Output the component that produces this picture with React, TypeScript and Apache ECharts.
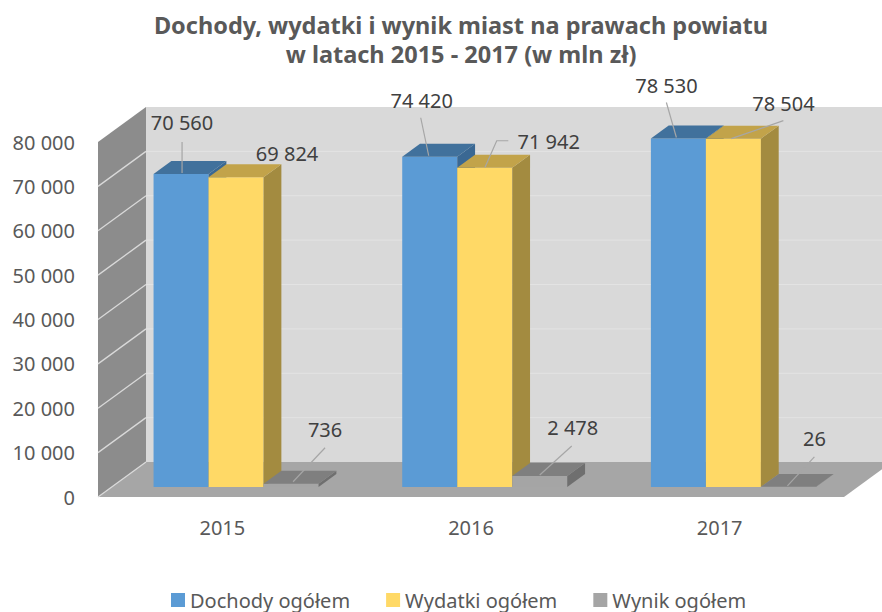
import React, { useEffect, useRef } from 'react';
import * as echarts from 'echarts';

// ---- data ----
const categories = ['2015', '2016', '2017'];
const dochody = [70560, 74420, 78530];
const wydatki = [69824, 71942, 78504];
const wynik = [736, 2478, 26];
const seriesNames = ['Dochody ogółem', 'Wydatki ogółem', 'Wynik ogółem'];
const yTicks = [0, 10000, 20000, 30000, 40000, 50000, 60000, 70000, 80000];
const titleLines = ['Dochody, wydatki i wynik miast na prawach powiatu', 'w latach 2015 - 2017 (w mln zł)'];

// ---- layout / style ----
const FONT = "'Noto Sans', 'Open Sans', sans-serif";
const DEPTH_X = 48;
const DEPTH_Y = -35;
const BAR_FRONT = 0.286;
const BAR_BACK = 0.657;
const BAR_RATIO = 0.2212;

type Faces = { front: string; top: string; side: string };
const FACES: Faces[] = [
  { front: '#5b9bd5', top: '#41719c', side: '#3a6893' },
  { front: '#ffd966', top: '#c2a34a', side: '#a38b40' },
  { front: '#a5a5a5', top: '#7f7f7f', side: '#6f6f6f' },
];
const LEGEND_COLORS = ['#5b9bd5', '#ffd966', '#a5a5a5'];

type LabelLayout = { dx: number; dy: number; leader: number[][] | null };
// label offsets relative to the bar's front-top centre
const LABELS: LabelLayout[][] = [
  [
    { dx: 1, dy: -51, leader: [[1, -32], [1, -1]] },
    { dx: -8, dy: -56, leader: [[-9, -39], [-1, -1]] },
    { dx: -12, dy: -53.5, leader: [[-12, -36], [-2, -1]] },
  ],
  [
    { dx: 51, dy: -24, leader: null },
    { dx: 64, dy: -26, leader: [[23.6, -27], [12, -27], [0.3, -0.5]] },
    { dx: 50, dy: -35, leader: [[50, -18], [-2, 0]] },
  ],
  [
    { dx: 34, dy: -54, leader: [[34, -36], [2, -2]] },
    { dx: 33, dy: -48, leader: [[32, -30], [0, -1]] },
    { dx: 26, dy: -48, leader: [[26, -30], [-1, -1]] },
  ],
];

const fmt = (v: number) => String(v).replace(/\B(?=(\d{3})+(?!\d))/g, ' ');

function makeBarRender(pos: number) {
  const faces = FACES[pos];
  const labels = LABELS[pos];
  return (params: any, api: any) => {
    const ci = api.value(0) as number;
    const v = api.value(1) as number;
    const p0 = api.coord([ci, 0]);
    const p1 = api.coord([ci, v]);
    const band = api.size([1, 0])[0];
    const bw = band * BAR_RATIO;
    const xl = p0[0] + (pos - 1.5) * bw;
    const xr = xl + bw;
    const fx = DEPTH_X * BAR_FRONT;
    const fy = DEPTH_Y * BAR_FRONT;
    const bx = DEPTH_X * BAR_BACK;
    const by = DEPTH_Y * BAR_BACK;
    const yb = p0[1];
    const yt = p1[1];
    const front = [[xl + fx, yt + fy], [xr + fx, yt + fy], [xr + fx, yb + fy], [xl + fx, yb + fy]];
    const top = [[xl + fx, yt + fy], [xr + fx, yt + fy], [xr + bx, yt + by], [xl + bx, yt + by]];
    const side = [[xr + fx, yt + fy], [xr + bx, yt + by], [xr + bx, yb + by], [xr + fx, yb + fy]];
    const ax = (xl + xr) / 2 + fx;
    const ay = yt + fy;
    const L = labels[params.dataIndex];
    const children: any[] = [
      { type: 'polygon', shape: { points: front }, style: { fill: faces.front } },
      { type: 'polygon', shape: { points: side }, style: { fill: faces.side } },
      { type: 'polygon', shape: { points: top }, style: { fill: faces.top } },
    ];
    if (L.leader) {
      children.push({
        type: 'polyline',
        shape: { points: L.leader.map((p) => [ax + p[0], ay + p[1]]) },
        style: { stroke: '#a6a6a6', lineWidth: 1.2, fill: null },
        z2: 10,
      });
    }
    children.push({
      type: 'text',
      x: ax + L.dx,
      y: ay + L.dy,
      z2: 11,
      style: {
        text: fmt(v),
        fill: '#404040',
        fontSize: 20,
        fontFamily: FONT,
        align: 'center',
        verticalAlign: 'middle',
      },
    });
    return { type: 'group', children };
  };
}

function wallsRender(params: any, api: any) {
  const cs = params.coordSys;
  const xL = cs.x;
  const xR = cs.x + cs.width;
  const y0 = api.coord([0, yTicks[0]])[1];
  const yTop = api.coord([0, yTicks[yTicks.length - 1]])[1];
  const children: any[] = [
    {
      type: 'polygon',
      shape: { points: [[xL + DEPTH_X, yTop + DEPTH_Y], [xR + DEPTH_X, yTop + DEPTH_Y], [xR + DEPTH_X, y0 + DEPTH_Y], [xL + DEPTH_X, y0 + DEPTH_Y]] },
      style: { fill: '#d9d9d9' },
    },
    {
      type: 'polygon',
      shape: { points: [[xL, yTop], [xL + DEPTH_X, yTop + DEPTH_Y], [xL + DEPTH_X, y0 + DEPTH_Y], [xL, y0]] },
      style: { fill: '#8c8c8c' },
    },
    {
      type: 'polygon',
      shape: { points: [[xL, y0], [xR, y0], [xR + DEPTH_X, y0 + DEPTH_Y], [xL + DEPTH_X, y0 + DEPTH_Y]] },
      style: { fill: '#a6a6a6' },
    },
  ];
  yTicks.forEach((t, i) => {
    const y = api.coord([0, t])[1];
    if (i > 0 && i < yTicks.length - 1) {
      children.push({
        type: 'line',
        shape: { x1: xL + DEPTH_X, y1: y + DEPTH_Y, x2: xR + DEPTH_X, y2: y + DEPTH_Y },
        style: { stroke: '#e3e3e3', lineWidth: 1 },
      });
    }
    if (i < yTicks.length - 1) {
      children.push({
        type: 'line',
        shape: { x1: xL, y1: y, x2: xL + DEPTH_X, y2: y + DEPTH_Y },
        style: { stroke: '#d9d9d9', lineWidth: 1.3 },
      });
    }
  });
  return { type: 'group', children };
}

export default function App() {
  const ref = useRef<HTMLDivElement>(null);
  useEffect(() => {
    if (!ref.current) return;
    const chart = echarts.init(ref.current, null, { renderer: 'svg' });
    const values = [dochody, wydatki, wynik];
    chart.setOption({
      animation: false,
      backgroundColor: '#ffffff',
      color: LEGEND_COLORS,
      graphic: [
        {
          type: 'text',
          x: 461,
          y: 10,
          style: {
            text: titleLines.join('\n'),
            fill: '#595959',
            fontSize: 23.5,
            fontWeight: 'bold',
            fontFamily: FONT,
            lineHeight: 29,
            align: 'center',
            verticalAlign: 'top',
          },
        },
      ],
      legend: {
        data: seriesNames,
        left: 171,
        top: 590,
        padding: 0,
        icon: 'rect',
        itemWidth: 14,
        itemHeight: 14,
        itemGap: 36,
        textStyle: { color: '#595959', fontSize: 20, fontFamily: FONT, lineHeight: 20 },
      },
      grid: { left: 98, right: 38, top: 142, bottom: 115, containLabel: false },
      xAxis: {
        type: 'category',
        data: categories,
        axisLine: { show: false },
        axisTick: { show: false },
        axisLabel: { color: '#595959', fontSize: 20, fontFamily: FONT, margin: 20, lineHeight: 20 },
      },
      yAxis: {
        type: 'value',
        min: 0,
        max: 80000,
        interval: 10000,
        axisLine: { show: false },
        axisTick: { show: false },
        splitLine: { show: false },
        axisLabel: { color: '#595959', fontSize: 20, fontFamily: FONT, margin: 23, formatter: (v: number) => fmt(v) },
      },
      series: [
        {
          type: 'custom',
          name: '__walls',
          z: 1,
          silent: true,
          clip: false,
          renderItem: wallsRender,
          encode: { x: 0, y: 1 },
          data: [[0, 0]],
        },
        ...values.map((arr, si) => ({
          type: 'custom',
          name: seriesNames[si],
          z: 2 + si,
          clip: false,
          itemStyle: { color: LEGEND_COLORS[si] },
          renderItem: makeBarRender(si),
          encode: { x: 0, y: 1 },
          data: arr.map((v, i) => [i, v]),
        })),
      ],
    });
    return () => chart.dispose();
  }, []);
  return <div ref={ref} style={{ position: 'fixed', left: 0, top: 0, width: 882, height: 612 }} />;
}
